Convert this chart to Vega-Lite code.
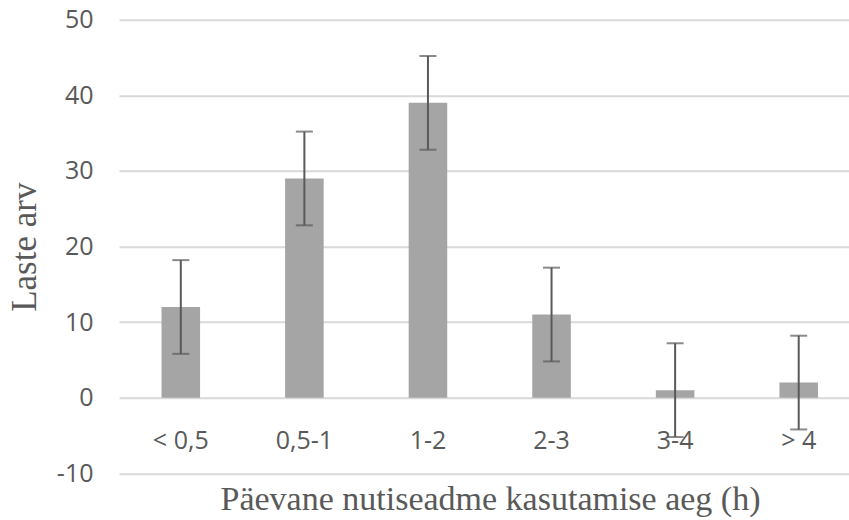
{
  "$schema": "https://vega.github.io/schema/vega-lite/v6.json",
  "width": 729,
  "height": 453.6,
  "autosize": {"type": "none"},
  "padding": {"left": 120, "top": 19.7, "right": 0, "bottom": 46.7},
  "background": "white",
  "config": {"view": {"stroke": null}},
  "data": {
    "values": [
      {"aeg": "< 0,5", "arv": 12, "lo": 5.8, "hi": 18.2},
      {"aeg": "0,5-1", "arv": 29, "lo": 22.8, "hi": 35.2},
      {"aeg": "1-2", "arv": 39, "lo": 32.8, "hi": 45.2},
      {"aeg": "2-3", "arv": 11, "lo": 4.8, "hi": 17.2},
      {"aeg": "3-4", "arv": 1, "lo": -5.2, "hi": 7.2},
      {"aeg": "> 4", "arv": 2, "lo": -4.2, "hi": 8.2}
    ]
  },
  "encoding": {
    "x": {
      "field": "aeg",
      "type": "nominal",
      "sort": null,
      "scale": {"range": [-1, 740.5], "paddingInner": 0.688, "paddingOuter": 0.344},
      "axis": {
        "title": "Päevane nutiseadme kasutamise aeg (h)",
        "labelAngle": 0,
        "domain": false,
        "ticks": false,
        "labelFont": "Open Sans",
        "labelFontSize": 25,
        "labelColor": "#595959",
        "labelBaseline": "middle",
        "labelPadding": -33,
        "titleFont": "Liberation Serif",
        "titleFontSize": 34,
        "titleFontWeight": "normal",
        "titleColor": "#595959",
        "titleX": 370,
        "titleY": 35.7,
        "titleAlign": "center",
        "titleBaseline": "alphabetic"
      }
    }
  },
  "layer": [
    {
      "mark": {"type": "bar", "color": "#a5a5a5"},
      "encoding": {
        "y": {
          "field": "arv",
          "type": "quantitative",
          "scale": {"domain": [-10, 50], "nice": false},
          "axis": {
            "title": "Laste arv",
            "values": [-10, 0, 10, 20, 30, 40, 50],
            "labelExpr": "replace(datum.label, '\u2212', '-')",
            "domain": false,
            "ticks": false,
            "grid": true,
            "gridColor": "#d9d9d9",
            "gridWidth": 2,
            "labelFont": "Open Sans",
            "labelFontSize": 25,
            "labelColor": "#595959",
            "labelPadding": 27,
            "titleFont": "Liberation Serif",
            "titleFontSize": 35,
            "titleFontWeight": "normal",
            "titleColor": "#595959",
            "titleX": -85,
            "titleY": 227,
            "titleAngle": -90,
            "titleAlign": "center",
            "titleBaseline": "alphabetic"
          }
        }
      }
    },
    {
      "mark": {"type": "rule", "color": "#595959", "strokeWidth": 2},
      "encoding": {
        "y": {"field": "lo", "type": "quantitative"},
        "y2": {"field": "hi"}
      }
    },
    {
      "mark": {"type": "tick", "color": "#595959", "thickness": 2, "size": 17, "orient": "horizontal"},
      "encoding": {"y": {"field": "lo", "type": "quantitative"}}
    },
    {
      "mark": {"type": "tick", "color": "#595959", "thickness": 2, "size": 17, "orient": "horizontal"},
      "encoding": {"y": {"field": "hi", "type": "quantitative"}}
    }
  ]
}
